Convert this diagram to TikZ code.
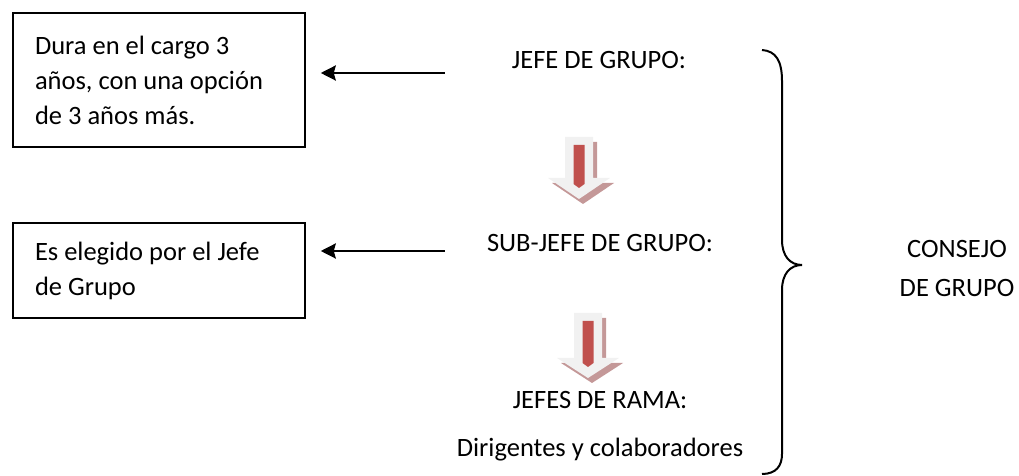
\documentclass[tikz,border=0pt]{standalone}
\usepackage{fontspec}
\setmainfont{Carlito}
\usetikzlibrary{arrows.meta,positioning}
\definecolor{sombra}{RGB}{196,152,152}
\definecolor{grisclaro}{RGB}{241,241,241}
\definecolor{rojobarra}{RGB}{192,80,77}
\tikzset{caja/.style = {draw,line width=1.5pt,inner xsep=22pt,inner ysep=0pt,text width=248pt,minimum height=#1,align=flush left},
	texto/.style = {inner sep=0pt,anchor=base},
	flecha/.style = {line width=2.5pt,-{Stealth[length=15pt,width=15pt,inset=2pt]}}}
% #1 centro x, #2 arriba, #3 base de la punta, #4 punta
\NewDocumentCommand{\flechagris}{m m m m}{%
	\fill[sombra] (#1-10,#2-5) -- (#1+18,#2-5) -- (#1+18,#3-5) -- (#1+35,#3-5) -- (#1+4,#4-5) -- (#1-27,#3-5) -- (#1-10,#3-5) -- cycle;
	\fill[grisclaro] (#1-14,#2) -- (#1+14,#2) -- (#1+14,#3) -- (#1+31,#3) -- (#1,#4) -- (#1-31,#3) -- (#1-14,#3) -- cycle;
	\fill[rojobarra] (#1-5.5,#2-8) -- (#1+5.5,#2-8) -- (#1+5.5,#4+15) -- (#1,#4+11) -- (#1-5.5,#4+15) -- cycle;
}

\begin{document}
\begin{tikzpicture}[x=1pt,y=1pt,font=\fontsize{26.5}{35}\selectfont]
\useasboundingbox (0,0) rectangle (1019,476);
\node[caja=134pt] (dura) at (159,396) {Dura en el cargo 3\\años, con una opción\\de 3 años más.};
\node[caja=95pt] (elegido) at (159,205.5) {Es elegido por el Jefe\\de Grupo};

\node[texto] (jefe) at (599,407) {JEFE DE GRUPO:};
\node[texto] (subjefe) at (600,224) {SUB-JEFE DE GRUPO:};
\node[texto] (rama) at (600,67) {JEFES DE RAMA:};
\node[texto] (dirig) at (600,19) {Dirigentes y colaboradores};
\node[texto] (consejo) at (957,218) {CONSEJO};
\node[texto] (degrupo) at ([yshift=-39pt]consejo.base) {DE GRUPO};

\draw[flecha] ([shift={(-67pt,-4pt)}]jefe.base west) coordinate (a1) -- ([xshift=15pt]dura.east |- a1);
\draw[flecha] ([shift={(-42pt,1pt)}]subjefe.base west) coordinate (a2) -- ([xshift=15pt]elegido.east |- a2);

\flechagris{579}{339}{298}{277}
\flechagris{588}{163}{118}{98}

\draw[line width=2pt] (762,426) .. controls (776,425) and (782,415) .. (782,395) -- (782,236)
	.. controls (782,220) and (790,211) .. (802,211) .. controls (790,211) and (782,202) .. (782,186)
	-- (782,22) .. controls (782,10) and (776,2) .. (762,2);
\end{tikzpicture}
\end{document}
